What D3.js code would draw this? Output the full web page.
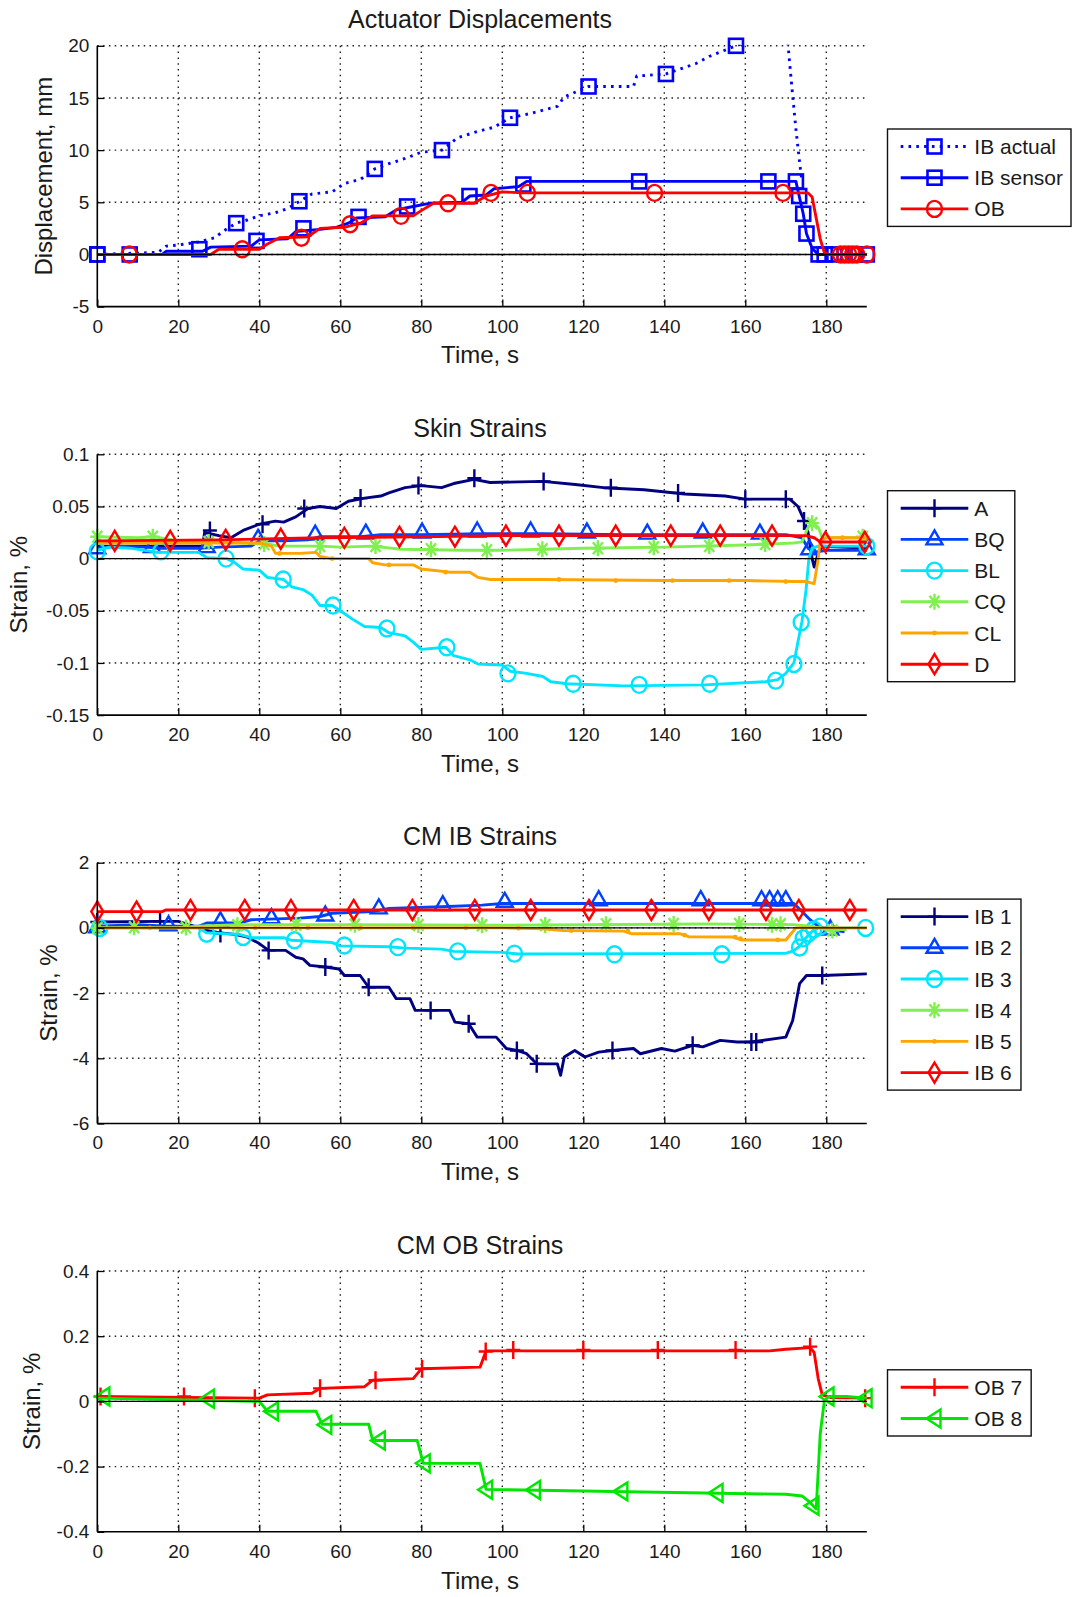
<!DOCTYPE html>
<html><head><meta charset="utf-8">
<script src="https://cdn.jsdelivr.net/npm/d3@7"></script>
<style>
body{margin:0;background:#fff}
svg{display:block;background:#fff}
text{font-family:"Liberation Sans",Arial,Helvetica,sans-serif;fill:#1a1a1a}
</style>
</head><body>
<svg id="c" width="1073" height="1597"></svg>
<script>
// ---------- shared axis data ----------
const xTicks = [0,20,40,60,80,100,120,140,160,180];
const xDomain = [0,190];
const panelTitles = ["Actuator Displacements","Skin Strains","CM IB Strains","CM OB Strains"];
const panelYLabels = ["Displacement, mm","Strain, %","Strain, %","Strain, %"];
const yDomains = [[-5,20],[-0.15,0.1],[-6,2],[-0.4,0.4]];
const yTicks1 = [-5,0,5,10,15,20];
const yTicks2 = [-0.15,-0.1,-0.05,0,0.05,0.1];
const yTicks3 = [-6,-4,-2,0,2];
const yTicks4 = [-0.4,-0.2,0,0.2,0.4];
const yTickLabels1 = ["-5","0","5","10","15","20"];
const yTickLabels2 = ["-0.15","-0.1","-0.05","0","0.05","0.1"];
const yTickLabels3 = ["-6","-4","-2","0","2"];
const yTickLabels4 = ["-0.4","-0.2","0","0.2","0.4"];

// ---------- Panel 1: Actuator Displacements ----------
const ibActualLine = [[0,0],[15,0.2],[17,0.8],[20,0.9],[25,1.2],[29,1.6],[31,2.2],[34.3,3.0],[37,3.3],[40,3.7],[44,4.0],[47,4.4],[50,5.1],[53,5.8],[58,6.0],[61,6.8],[65,7.2],[68.5,8.2],[72,8.7],[76,9.2],[80,9.8],[85.1,10.0],[89,11.2],[94,11.8],[98,12.2],[101.9,13.1],[106.8,13.5],[113.6,14.2],[115.3,15.1],[121.3,16.1],[132.4,16.1],[133.2,17.1],[140.4,17.3],[147.8,18.3],[151.2,19.0],[157.7,20.0],[163,20.6],[169,21.0],[170.5,20.3],[171.5,16],[172.5,12],[173.5,8.5],[174,7]];
const ibActualMarks = [[0,0],[34.3,3.0],[49.9,5.1],[68.5,8.2],[85.1,10.0],[101.9,13.1],[121.3,16.1],[140.4,17.3],[157.7,20.0]];
const ibSensorLine = [[0,0],[16,0],[17,0.3],[26,0.3],[28,0.7],[38,0.8],[40,1.4],[47,1.5],[49,2.2],[55,2.4],[59,2.6],[62,3.0],[64,3.5],[71,3.6],[74,4.3],[78,4.6],[82,4.9],[90,5.0],[92,5.6],[96,5.7],[98,6.3],[104,6.5],[106,7.0],[172.5,7.0],[173.3,5.6],[174.3,3.9],[175.1,2.0],[176.5,0.6],[178,0],[190,0]];
const ibSensorMarks = [[0,0],[8,0],[25.2,0.5],[39.3,1.3],[50.9,2.5],[64.5,3.6],[76.5,4.6],[91.9,5.6],[105.2,6.7],[133.8,7.0],[165.7,7.0],[172.5,7.0],[173.3,5.6],[174.3,3.9],[175.1,2.0],[178.1,0],[179.6,0],[182,0],[184.5,0],[187,0],[190,0]];
const obLine = [[0,0],[28,0],[30,0.5],[40,0.5],[42,1.0],[45,1.6],[52,1.7],[55,2.5],[61,2.6],[65,3.0],[68,3.7],[78,3.7],[80,4.2],[83,4.9],[93,4.9],[96,5.6],[100,6.0],[105,5.9],[175.5,5.9],[176.5,5.5],[177.5,3.5],[178.5,1.5],[179.5,0.2],[180.5,0],[190,0]];
const obMarks = [[7.9,0],[35.8,0.5],[50.4,1.6],[62.4,2.9],[75,3.7],[86.6,4.9],[97.2,5.9],[106.2,5.9],[137.6,5.9],[169.3,5.9],[183.5,0],[184.5,0],[185.5,0],[186.5,0],[187.5,0],[190,0]];

// ---------- Panel 2: Skin Strains ----------
const aLine = [[0,0.012],[26,0.012],[26.5,0.025],[30,0.022],[33,0.02],[36,0.027],[40,0.033],[44,0.036],[46,0.035],[49,0.04],[52,0.048],[55,0.05],[59,0.048],[62,0.055],[66,0.058],[70,0.06],[72,0.063],[76,0.068],[80,0.07],[85,0.068],[88,0.072],[93,0.076],[97,0.073],[110,0.074],[118,0.071],[125,0.068],[135,0.066],[145,0.062],[155,0.06],[160,0.057],[171,0.057],[173,0.05],[174.5,0.037],[175.5,0.025],[176.5,0.0],[177,-0.008],[178,0.005],[179,0.012],[190,0.01]];
const aMarks = [[27.8,0.027],[40.8,0.033],[51.1,0.048],[65,0.058],[79.3,0.07],[93.1,0.077],[110.2,0.074],[126.8,0.068],[143.4,0.063],[160,0.057],[170,0.057],[174.5,0.036]];
const bqLine = [[0,0.01],[5,0.012],[12,0.011],[15,0.01],[25,0.01],[30,0.011],[38,0.012],[40,0.017],[46,0.017],[52,0.018],[55,0.021],[65,0.021],[70,0.023],[80,0.023],[95,0.024],[110,0.024],[130,0.023],[150,0.023],[170,0.023],[174,0.02],[175.5,0.01],[177,0.006],[180,0.008],[190,0.008]];
const bqMarks = [[0,0.01],[13.5,0.011],[27,0.011],[39.7,0.019],[53.8,0.023],[66.3,0.024],[80.2,0.025],[93.8,0.026],[107,0.026],[120.9,0.025],[135.8,0.024],[149.5,0.025],[163.6,0.024],[175.8,0.009],[190,0.009]];
const blLine = [[0,0.008],[3,0.011],[8,0.01],[15,0.006],[25,0.006],[27,0.001],[32,0.0],[34,-0.004],[36,-0.01],[40,-0.011],[42,-0.018],[46,-0.02],[48,-0.027],[51,-0.03],[53,-0.035],[55,-0.045],[58,-0.045],[60,-0.05],[63,-0.058],[66,-0.065],[70,-0.066],[72,-0.071],[76,-0.074],[78,-0.08],[80,-0.087],[86,-0.085],[88,-0.093],[92,-0.097],[94,-0.101],[100,-0.102],[102,-0.108],[106,-0.11],[110,-0.113],[112,-0.118],[116,-0.12],[130,-0.122],[150,-0.121],[165,-0.118],[168,-0.116],[170,-0.11],[172,-0.1],[173,-0.08],[174,-0.06],[175,-0.03],[175.7,0.0],[176.5,0.01],[178,0.012],[190,0.012]];
const blMarks = [[0,0.007],[15.7,0.007],[31.8,0.0],[45.9,-0.02],[58.2,-0.045],[71.5,-0.067],[86.3,-0.085],[101.4,-0.11],[117.5,-0.12],[133.8,-0.121],[151.2,-0.12],[167.5,-0.117],[172,-0.101],[173.8,-0.061],[190,0.012]];
const cqLine = [[0,0.021],[10,0.02],[14,0.021],[20,0.017],[30,0.016],[42,0.014],[45,0.012],[55,0.012],[60,0.011],[68,0.012],[75,0.009],[90,0.008],[100,0.008],[110,0.009],[120,0.01],[140,0.011],[160,0.013],[172,0.015],[174,0.016],[175.5,0.03],[176.5,0.035],[178,0.03],[179,0.02],[190,0.02]];
const cqMarks = [[0,0.021],[13.7,0.021],[27.5,0.016],[41.2,0.014],[55,0.012],[68.7,0.012],[82.4,0.009],[96.2,0.008],[109.9,0.009],[123.6,0.01],[137.4,0.011],[151.1,0.012],[164.9,0.014],[176.5,0.034],[189,0.021]];
const clLine = [[0,0.015],[20,0.015],[40,0.015],[43,0.012],[44,0.005],[50,0.005],[54,0.006],[55,0.002],[58,0.0],[67,0.0],[68,-0.004],[71,-0.006],[78,-0.006],[80,-0.01],[87,-0.013],[92,-0.013],[94,-0.018],[97,-0.02],[110,-0.02],[140,-0.021],[160,-0.021],[172,-0.022],[175,-0.022],[177,-0.024],[178,0.0],[178.5,0.017],[180,0.02],[190,0.02]];
const clMarks = [[13.7,0.015],[27.5,0.015],[45,0.005],[58,0.0],[72,-0.006],[86,-0.013],[100,-0.02],[114,-0.02],[128,-0.021],[142,-0.021],[156,-0.021],[170,-0.022],[184,0.02]];
const dLine = [[0,0.017],[30,0.018],[55,0.02],[80,0.021],[100,0.022],[175,0.022],[177,0.02],[178.5,0.016],[190,0.016]];
const dMarks = [[4.3,0.017],[18,0.017],[31.7,0.018],[45.3,0.019],[61,0.02],[74.6,0.021],[88.3,0.021],[100.9,0.022],[114,0.022],[128,0.022],[141.6,0.022],[153.8,0.022],[166.6,0.022],[179.8,0.016],[189.5,0.016]];

// ---------- Panel 3: CM IB Strains ----------
const ib1Line = [[0,0.18],[15,0.2],[20,0.2],[24,0.05],[27,-0.08],[30,-0.15],[34,-0.2],[37,-0.28],[40,-0.48],[42.3,-0.69],[46.5,-0.69],[49,-0.9],[50.8,-0.95],[52.5,-1.15],[56.3,-1.2],[59.7,-1.26],[61,-1.46],[64.9,-1.46],[67,-1.82],[72,-1.82],[73.8,-2.17],[77.2,-2.17],[78.5,-2.53],[82.3,-2.53],[87,-2.53],[88.3,-2.89],[91.7,-2.94],[93.8,-3.35],[98.5,-3.35],[101,-3.7],[103.6,-3.76],[106,-3.86],[108.5,-4.17],[113.6,-4.17],[114.4,-4.52],[115.3,-3.96],[117.9,-3.76],[120.4,-3.96],[123.8,-3.81],[127.2,-3.76],[132.4,-3.7],[134.1,-3.86],[139.3,-3.7],[142.6,-3.78],[147,-3.6],[149.5,-3.65],[153.8,-3.45],[158,-3.5],[161.5,-3.5],[170,-3.35],[171.7,-2.84],[173.4,-1.71],[175.1,-1.46],[179,-1.46],[190,-1.41]];
const ib1Marks = [[0,0.18],[15.5,0.2],[30.4,-0.17],[42.3,-0.69],[56.3,-1.2],[67,-1.82],[82.3,-2.53],[91.7,-2.94],[103.6,-3.76],[108.5,-4.17],[127.2,-3.76],[147,-3.6],[161.5,-3.5],[162.7,-3.5],[179,-1.46]];
const ib2Line = [[0,0.05],[10,0.1],[17,0.05],[25,0.05],[27,0.15],[35,0.15],[38,0.25],[50,0.3],[55,0.35],[58,0.45],[68,0.5],[72,0.6],[85,0.65],[95,0.7],[100,0.75],[172,0.75],[174,0.5],[176,0.25],[178,0.05],[181,-0.05],[184.5,-0.12]];
const ib2Marks = [[0,0.02],[17.6,0.08],[30.4,0.2],[43,0.3],[56.3,0.38],[69.5,0.6],[85.3,0.7],[100.6,0.8],[123.8,0.85],[149,0.85],[164,0.85],[166,0.85],[168,0.85],[170,0.85],[181,-0.05]];
const ib3Line = [[0,0],[25,0],[27,-0.15],[35,-0.2],[38,-0.3],[46,-0.3],[48,-0.38],[58,-0.45],[60,-0.55],[72,-0.58],[76,-0.62],[85,-0.65],[88,-0.72],[100,-0.75],[104,-0.8],[170,-0.78],[172,-0.7],[173.5,-0.55],[175,-0.3],[176.5,-0.1],[178,0],[190,0]];
const ib3Marks = [[0.6,0],[27,-0.18],[36,-0.28],[48.7,-0.38],[61,-0.54],[74.2,-0.59],[89,-0.72],[103,-0.79],[127.7,-0.81],[154.2,-0.81],[173.4,-0.6],[174.3,-0.32],[175.6,-0.17],[176.9,-0.05],[178.5,0.04],[189.7,0]];
const ib4Line = [[0,0],[20,0],[25,0.05],[35,0.1],[60,0.1],[100,0.08],[150,0.12],[172,0.1],[176,0.05],[180,-0.05],[185,-0.05]];
const ib4Marks = [[0,0],[9.1,0.02],[21.9,0.01],[34.6,0.08],[49.1,0.1],[63.6,0.1],[79.3,0.09],[95,0.08],[110.6,0.09],[125.6,0.11],[142.3,0.12],[158.5,0.12],[166.6,0.1],[168.7,0.11],[181.5,-0.08]];
const ib5Line = [[0,0],[100,0],[110,-0.03],[115,-0.08],[130,-0.1],[132,-0.18],[144,-0.18],[146,-0.27],[157,-0.28],[159,-0.37],[170,-0.37],[171.5,-0.15],[172.5,0],[190,0]];
const ib5Marks = [[13,0],[26,0],[39,0],[52,0],[65,0],[78,0],[91,0],[104,-0.01],[117,-0.08],[131,-0.1],[145,-0.22],[157.5,-0.28],[158.8,-0.33],[168,-0.37]];
const ib6Line = [[0,0.5],[16,0.5],[17,0.55],[190,0.55]];
const ib6Marks = [[0,0.5],[9.7,0.5],[23,0.55],[36.4,0.55],[47.8,0.55],[63.3,0.55],[77.8,0.55],[93.2,0.55],[107,0.55],[121.4,0.55],[136.8,0.55],[151,0.55],[165.1,0.55],[173.2,0.55],[185.8,0.55]];

// ---------- Panel 4: CM OB Strains ----------
const ob7Line = [[0,0.015],[40,0.01],[42,0.02],[53,0.025],[55,0.04],[66,0.045],[68,0.065],[78,0.07],[80,0.1],[94.5,0.105],[96,0.155],[166,0.155],[170,0.16],[176,0.165],[177,0.15],[178,0.07],[179,0.02],[181,0.012],[190,0.01]];
const ob7Marks = [[0.8,0.015],[21.4,0.015],[38.9,0.01],[55,0.04],[68.7,0.065],[80.2,0.1],[95.9,0.153],[102.7,0.158],[120,0.158],[138.4,0.158],[157.6,0.158],[176,0.168],[189.6,0.01]];
const ob8Line = [[0,0.01],[40,0.0],[42,-0.03],[54,-0.03],[55.5,-0.07],[67,-0.07],[68,-0.12],[79,-0.12],[80.5,-0.19],[94.5,-0.19],[96,-0.27],[170,-0.285],[174,-0.29],[176,-0.31],[177.5,-0.33],[178.5,-0.1],[179.5,0.0],[180.5,0.015],[185,0.015],[190,0.01]];
const ob8Marks = [[1.5,0.015],[27.3,0.008],[43.1,-0.03],[56.3,-0.072],[69.5,-0.12],[80.6,-0.19],[96,-0.271],[107.8,-0.272],[129.4,-0.276],[152.9,-0.281],[176.6,-0.32],[180.3,0.015],[189.7,0.01]];

// ---------- series definitions (name, color, marker) ----------
const panels = [
  {ticks:yTicks1, tickLabels:yTickLabels1, series:[
    {name:"IB actual", color:"#0000ff", marker:"square", line:ibActualLine, marks:ibActualMarks, dash:"2.6,5.2"},
    {name:"IB sensor", color:"#0000ff", marker:"square", line:ibSensorLine, marks:ibSensorMarks},
    {name:"OB", color:"#ff0000", marker:"circle", line:obLine, marks:obMarks}]},
  {ticks:yTicks2, tickLabels:yTickLabels2, series:[
    {name:"A", color:"#000080", marker:"plus", line:aLine, marks:aMarks},
    {name:"BQ", color:"#0040ff", marker:"triUp", line:bqLine, marks:bqMarks},
    {name:"BL", color:"#00e5ff", marker:"circle", line:blLine, marks:blMarks},
    {name:"CQ", color:"#80f050", marker:"star", line:cqLine, marks:cqMarks},
    {name:"CL", color:"#ffa500", marker:"dot", line:clLine, marks:clMarks},
    {name:"D", color:"#ff0000", marker:"diamond", line:dLine, marks:dMarks}]},
  {ticks:yTicks3, tickLabels:yTickLabels3, series:[
    {name:"IB 1", color:"#000080", marker:"plus", line:ib1Line, marks:ib1Marks},
    {name:"IB 2", color:"#0040ff", marker:"triUp", line:ib2Line, marks:ib2Marks},
    {name:"IB 3", color:"#00e5ff", marker:"circle", line:ib3Line, marks:ib3Marks},
    {name:"IB 4", color:"#80f050", marker:"star", line:ib4Line, marks:ib4Marks},
    {name:"IB 5", color:"#ffa500", marker:"dot", line:ib5Line, marks:ib5Marks},
    {name:"IB 6", color:"#ff0000", marker:"diamond", line:ib6Line, marks:ib6Marks}]},
  {ticks:yTicks4, tickLabels:yTickLabels4, series:[
    {name:"OB 7", color:"#ff0000", marker:"plus", line:ob7Line, marks:ob7Marks},
    {name:"OB 8", color:"#00e600", marker:"triLeft", line:ob8Line, marks:ob8Marks}]}
];

// ---------- layout ----------
const PX0 = 97.3, PX1 = 866.8, PH = 260.8;
const tops = [45.8, 454.3, 862.7, 1271.0];
const yLabelX = [51.5, 27, 56.5, 40];
const LW = 2.9, MW = 2.4;
const svg = d3.select("#c");

function drawMarker(g, type, cx, cy, color) {
  let p;
  switch (type) {
    case "square":
      g.append("rect").attr("x",cx-7).attr("y",cy-7).attr("width",14).attr("height",14)
        .attr("fill","none").attr("stroke",color).attr("stroke-width",MW+0.2); return;
    case "circle":
      g.append("ellipse").attr("cx",cx).attr("cy",cy).attr("rx",7.5).attr("ry",8)
        .attr("fill","none").attr("stroke",color).attr("stroke-width",MW); return;
    case "dot":
      g.append("circle").attr("cx",cx).attr("cy",cy).attr("r",2.4).attr("fill",color); return;
    case "plus":
      p = `M${cx-7},${cy}H${cx+7}M${cx},${cy-9}V${cy+9}`; break;
    case "star":
      p = `M${cx-7},${cy}H${cx+7}M${cx},${cy-8}V${cy+8}M${cx-5},${cy-6}L${cx+5},${cy+6}M${cx-5},${cy+6}L${cx+5},${cy-6}`; break;
    case "triUp":
      p = `M${cx},${cy-9}L${cx+8},${cy+5}L${cx-8},${cy+5}Z`; break;
    case "triLeft":
      p = `M${cx-8},${cy}L${cx+6},${cy-9}L${cx+6},${cy+9}Z`; break;
    case "diamond":
      p = `M${cx},${cy-10}L${cx+6},${cy}L${cx},${cy+10}L${cx-6},${cy}Z`; break;
  }
  g.append("path").attr("d",p).attr("fill","none").attr("stroke",color).attr("stroke-width",MW);
}

panels.forEach((P, i) => {
  const top = tops[i], bot = top + PH;
  const x = d3.scaleLinear().domain(xDomain).range([PX0, PX1]);
  const y = d3.scaleLinear().domain(yDomains[i]).range([bot, top]);
  const g = svg.append("g");

  svg.append("clipPath").attr("id","clip"+i).append("rect")
    .attr("x",PX0).attr("y",top-1).attr("width",PX1-PX0+2).attr("height",PH+2);

  // grid
  const grid = g.append("g").attr("stroke","#222").attr("stroke-width",1.4).attr("stroke-dasharray","1.5,4.3");
  xTicks.filter(t => t > xDomain[0]).forEach(t => {
    grid.append("line").attr("x1",x(t)).attr("x2",x(t)).attr("y1",top).attr("y2",bot);
  });
  P.ticks.filter(v => v > yDomains[i][0]).forEach(v => {
    grid.append("line").attr("x1",PX0).attr("x2",PX1).attr("y1",y(v)).attr("y2",y(v));
  });

  // series lines
  const lineGen = d3.line().x(d => x(d[0])).y(d => y(d[1]));
  const sg = g.append("g");
  P.series.forEach(s => {
    sg.append("path").attr("d", lineGen(s.line)).attr("fill","none")
      .attr("stroke", s.color).attr("stroke-width", LW)
      .attr("stroke-linejoin","round")
      .attr("stroke-dasharray", s.dash || null)
      .attr("clip-path", `url(#clip${i})`);
    s.marks.forEach(m => drawMarker(sg, s.marker, x(m[0]), y(m[1]), s.color));
  });

  // zero line
  g.append("line").attr("x1",PX0).attr("x2",PX1).attr("y1",y(0)).attr("y2",y(0))
    .attr("stroke","#000").attr("stroke-width",1.4);

  // axes
  const xAxis = d3.axisBottom(x).tickValues(xTicks).tickFormat(d3.format("d"))
    .tickSize(-7).tickSizeOuter(0).tickPadding(12.5);
  const gx = g.append("g").attr("transform",`translate(0,${bot})`).call(xAxis);
  const yAxis = d3.axisLeft(y).tickValues(P.ticks).tickFormat((d,k) => P.tickLabels[k])
    .tickSize(-7).tickSizeOuter(0).tickPadding(8);
  const gy = g.append("g").attr("transform",`translate(${PX0},0)`).call(yAxis);
  [gx, gy].forEach(a => {
    a.attr("font-size",19).attr("font-family","Liberation Sans, Arial, sans-serif");
    a.select(".domain").attr("stroke","#000").attr("stroke-width",1.6);
    a.selectAll(".tick line").attr("stroke","#000").attr("stroke-width",1.3);
    a.selectAll(".tick text").attr("fill","#1a1a1a");
  });
  gx.select(".domain").attr("d", `M${PX0},0H${PX1}`);
  gy.select(".domain").attr("d", `M0,${bot}V${top}`);

  // title & labels
  g.append("text").attr("x",480).attr("y",top-17.5).attr("text-anchor","middle")
    .attr("font-size",25).text(panelTitles[i]);
  g.append("text").attr("x",480).attr("y",bot+56.7).attr("text-anchor","middle")
    .attr("font-size",24).text("Time, s");
  g.append("text").attr("transform",`translate(${yLabelX[i]},${(top+bot)/2}) rotate(-90)`)
    .attr("text-anchor","middle").attr("font-size",24).text(panelYLabels[i]);

  // legend
  const n = P.series.length;
  const boxH = (n-1)*31.2 + 35;
  const by = (top+bot)/2 + 1.5 - boxH/2;
  const lg = svg.append("g");
  const box = lg.append("rect");
  let maxR = 0;
  P.series.forEach((s, k) => {
    const ly = by + 17.5 + k*31.2;
    lg.append("line").attr("x1",900.7).attr("x2",968.3).attr("y1",ly).attr("y2",ly)
      .attr("stroke",s.color).attr("stroke-width",LW).attr("stroke-dasharray", s.dash || null);
    drawMarker(lg, s.marker, 934.5, ly, s.color);
    const t = lg.append("text").attr("x",974.3).attr("y",ly).attr("dy","0.36em")
      .attr("font-size",21).text(s.name);
    const bb = t.node().getBBox();
    maxR = Math.max(maxR, bb.x + bb.width);
  });
  box.attr("x",887.5).attr("y",by).attr("width",Math.min(maxR + 9, 1071) - 887.5).attr("height",boxH)
    .attr("fill","#fff").attr("stroke","#111").attr("stroke-width",1.4);
});
</script>
</body></html>
